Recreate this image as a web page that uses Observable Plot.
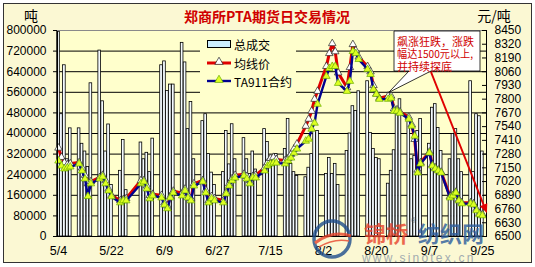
<!DOCTYPE html>
<html><head><meta charset="utf-8">
<script src="https://cdn.jsdelivr.net/npm/d3@7"></script>
<script src="https://cdn.jsdelivr.net/npm/@observablehq/plot@0.6"></script>
<style>
html,body{margin:0;padding:0;background:#fff;}
#chart{position:relative;width:535px;height:267px;}
</style></head><body><div id="chart"></div>
<script>
const dates = [
"2009-05-04","2009-05-05","2009-05-06","2009-05-07","2009-05-08","2009-05-11","2009-05-12","2009-05-13","2009-05-14","2009-05-15","2009-05-18","2009-05-19","2009-05-20","2009-05-21","2009-05-22","2009-05-25","2009-05-26","2009-05-27",
"2009-06-01","2009-06-02","2009-06-03","2009-06-04","2009-06-05","2009-06-08","2009-06-09","2009-06-10","2009-06-11","2009-06-12","2009-06-15","2009-06-16","2009-06-17","2009-06-18","2009-06-19","2009-06-22","2009-06-23","2009-06-24","2009-06-25","2009-06-26","2009-06-29","2009-06-30",
"2009-07-01","2009-07-02","2009-07-03","2009-07-06","2009-07-07","2009-07-08","2009-07-09","2009-07-10","2009-07-13","2009-07-14","2009-07-15","2009-07-16","2009-07-17","2009-07-20","2009-07-21","2009-07-22","2009-07-23","2009-07-24","2009-07-27","2009-07-28","2009-07-29","2009-07-30","2009-07-31",
"2009-08-03","2009-08-04","2009-08-05","2009-08-06","2009-08-07","2009-08-10","2009-08-11","2009-08-12","2009-08-13","2009-08-14","2009-08-17","2009-08-18","2009-08-19","2009-08-20","2009-08-21","2009-08-24","2009-08-25","2009-08-26","2009-08-27","2009-08-28","2009-08-31",
"2009-09-01","2009-09-02","2009-09-03","2009-09-04","2009-09-07","2009-09-08","2009-09-09","2009-09-10","2009-09-11","2009-09-14","2009-09-15","2009-09-16","2009-09-17","2009-09-18","2009-09-21","2009-09-22","2009-09-23","2009-09-24","2009-09-25"];
const volume = [
795000,475000,665000,300000,420000,420000,360000,330000,270000,595000,722000,525000,330000,435000,200000,255000,375000,180000,
365000,300000,325000,250000,380000,665000,680000,565000,590000,590000,752000,676000,417000,522000,300000,448000,475000,320000,248000,200000,250000,410000,
280000,436000,300000,382000,300000,243000,330000,260000,417000,367000,300000,280000,320000,340000,456000,282000,250000,235000,230000,267000,320000,410000,410000,
243000,305000,243000,282000,200000,332000,400000,506000,487000,564000,603000,402000,340000,305000,300000,205000,255000,335000,487000,533000,460000,
300000,313000,410000,456000,360000,500000,514000,421000,332000,300000,398000,417000,300000,250000,603000,250000,475000,467000,330000];
const avgPrice = [
7338,7250,7200,7180,7190,7200,7150,7080,7000,7020,7060,7080,7030,6950,6890,6840,6850,6860,
7030,7030,6980,6890,6900,6890,6820,6790,6880,6930,6910,6950,6890,6860,7000,7030,6940,6840,6880,6860,6840,6920,
7000,7050,7080,7090,7070,7030,7070,7080,7150,7200,7240,7250,7230,7220,7240,7280,7330,7376,7545,7612,7687,7800,7875,
8111,8233,8327,8250,8050,7910,8100,8318,8260,8200,8110,8060,7930,7850,7810,7830,7830,7710,7700,7680,7630,
7560,7420,7130,7200,7300,7180,7150,7130,7110,6880,6890,6920,6850,6820,6820,6810,6760,6720,6710];
const ta911 = [
7216,7169,7141,7150,7160,7188,7122,7046,6880,7000,7046,7065,7000,6933,6877,6820,6839,6839,
7000,7018,6952,6858,6886,6867,6800,6764,6867,6914,6886,6933,6867,6839,6980,7018,6914,6820,6858,6839,6820,6905,
6980,7028,7056,7075,7046,7000,7056,7056,7122,7169,7188,7197,7197,7188,7216,7244,7291,7329,7404,7423,7517,7574,7753,
8017,8092,8111,8111,7951,7875,7970,8252,8233,8177,8083,8035,7894,7847,7800,7800,7810,7687,7687,7668,7612,
7546,7451,7103,7188,7291,7169,7141,7122,7103,6867,6886,6914,6839,6811,6811,6801,6745,6707,6698];
const volumeTicks = [0,80000,160000,240000,320000,400000,480000,560000,640000,720000,800000];
const priceTicks = [6500,6630,6760,6890,7020,7150,7280,7410,7540,7670,7800,7930,8060,8190,8320,8450];
const xTickDates = ["2009-05-04","2009-05-22","2009-06-09","2009-06-27","2009-07-15","2009-08-02","2009-08-20","2009-09-07","2009-09-25"];
const titleText = "郑商所PTA期货日交易情况";
const leftUnit = "吨";
const rightUnit = "元/吨";
const seriesNames = ["总成交","均线价","TA911合约"];
const noteLines = ["飙涨狂跌，涨跌","幅达1500元以上,","并持续探底"];
const noteDate = "2009-08-25";
const watermark = ["锦桥","纺织网","www.sinotex.cn"];

const pMin = 6500, pMax = 8450, vMax = 800000;
const toV = p => (p - pMin) / (pMax - pMin) * vMax;
const DAY = 864e5;
const parse = d3.utcParse("%Y-%m-%d");
const rows = dates.map((d, i) => ({date: parse(d), volume: volume[i], avg: avgPrice[i], ta: ta911[i]}));
const t0 = rows[0].date, t1 = rows[rows.length - 1].date;

const W = 535, H = 267, mL = 57, mR = 49, mT = 30, mB = 31;
const font = "'Liberation Sans', Arial, sans-serif";
const cjk = "'Noto Sans CJK SC', sans-serif";

const plot = Plot.plot({
  width: W, height: H, marginLeft: mL, marginRight: mR, marginTop: mT, marginBottom: mB,
  style: {background: "transparent", fontFamily: font, fontSize: "12px", color: "#000", overflow: "visible"},
  x: {type: "utc", domain: [new Date(+t0 - 0.34 * DAY), new Date(+t1 + 1.4 * DAY)], label: null},
  y: {domain: [0, vMax], label: null},
  marks: [
    Plot.frame({fill: "#FFFFCC", stroke: null}),
    Plot.ruleY(volumeTicks.slice(1, -1), {stroke: "#000", strokeWidth: 1}),
    Plot.ruleY([vMax], {stroke: "#8a8a8a", strokeWidth: 1}),
    Plot.rectY(rows, {x1: d => new Date(+d.date - 0.45 * DAY), x2: d => new Date(+d.date + 0.45 * DAY), y1: 0, y2: "volume", fill: "#F4FBFF", stroke: "#000", strokeWidth: 0.8}),
    Plot.line(rows, {x: "date", y: d => toV(d.avg), stroke: "#E00000", strokeWidth: 3}),
    Plot.dot(rows, {x: "date", y: d => toV(d.avg), symbol: "triangle", r: 2.8, fill: "#fff", stroke: "#222", strokeWidth: 0.7}),
    Plot.line(rows, {x: "date", y: d => toV(d.ta), stroke: "#000090", strokeWidth: 2.4}),
    Plot.dot(rows, {x: "date", y: d => toV(d.ta), symbol: "triangle", r: 2.8, fill: "#DDFF22", stroke: "#6AAE00", strokeWidth: 0.7}),
    Plot.frame({stroke: "#000", strokeWidth: 1}),
    Plot.ruleY([vMax], {stroke: "#8a8a8a", strokeWidth: 1}),
    Plot.axisY(volumeTicks, {anchor: "left", tickSize: 4, tickPadding: 7, tickFormat: d => String(d), label: null, fontSize: 12}),
    Plot.axisY(priceTicks.map(toV), {anchor: "right", tickSize: 0, tickPadding: 8, tickFormat: d => String(Math.round(pMin + d / vMax * (pMax - pMin))), label: null, fontSize: 12}),
    Plot.tickY(priceTicks.map(toV), {y: d => d, insetLeft: W - mL - mR - 4, stroke: "#000"}),
    Plot.axisX(xTickDates.map(parse), {tickSize: 0, tickPadding: 10, tickFormat: d3.utcFormat("%-m/%-d"), label: null, fontSize: 12.5})
  ]
});

document.getElementById("chart").appendChild(plot);
const svg = d3.select(plot);
const xs = plot.scale("x"), ys = plot.scale("y");
const addText = (g, x, y, t, o) => {
  const e = g.append("text").attr("x", x).attr("y", y).attr("dominant-baseline", "central")
    .attr("text-anchor", o.anchor || "start").attr("font-family", o.family || cjk)
    .attr("font-size", o.size || 12).attr("fill", o.fill || "#000").text(t);
  if (o.weight) e.attr("font-weight", o.weight);
  if (o.ls) e.attr("letter-spacing", o.ls);
  if (o.len) e.attr("textLength", o.len).attr("lengthAdjust", "spacingAndGlyphs");
  return e;
};

// background + border
svg.insert("rect", ":first-child").attr("x", 3.5).attr("y", 3.5).attr("width", 528).attr("height", 259)
  .attr("fill", "#FBF8D3").attr("stroke", "#333").attr("stroke-width", 1);

// title and units
addText(svg, 267, 16, titleText, {anchor: "middle", size: 14, weight: "bold", fill: "#D00000"});
addText(svg, 31, 15, leftUnit, {anchor: "middle", size: 14});
addText(svg, 494, 15, rightUnit, {anchor: "middle", size: 14});

// legend
const lg = svg.append("g");
lg.append("rect").attr("x", 200).attr("y", 33).attr("width", 96).attr("height", 61).attr("fill", "#FFFFCC");
lg.append("rect").attr("x", 207.5).attr("y", 40.5).attr("width", 23).attr("height", 7).attr("fill", "#CCEEFF").attr("stroke", "#000");
lg.append("line").attr("x1", 207).attr("x2", 231).attr("y1", 63).attr("y2", 63).attr("stroke", "#E00000").attr("stroke-width", 3);
lg.append("path").attr("d", d3.symbol(d3.symbolTriangle, 30)()).attr("transform", "translate(219,62)").attr("fill", "#fff").attr("stroke", "#222").attr("stroke-width", 0.7);
lg.append("line").attr("x1", 207).attr("x2", 231).attr("y1", 81).attr("y2", 81).attr("stroke", "#000090").attr("stroke-width", 2.4);
lg.append("path").attr("d", d3.symbol(d3.symbolTriangle, 30)()).attr("transform", "translate(219,80)").attr("fill", "#DDFF22").attr("stroke", "#6AAE00").attr("stroke-width", 0.7);
[44, 63, 81].forEach((y, i) => addText(lg, 234, y, seriesNames[i], {size: 12}));

// callout
const ni = dates.indexOf(noteDate);
const tipX = xs.apply(rows[ni].date) - 2, tipY = ys.apply(toV(rows[ni].avg)) - 3;
svg.append("path").attr("d", `M394,31H480V71H431L${tipX},${tipY}L409,71H394Z`)
  .attr("fill", "#fff").attr("stroke", "#000").attr("stroke-width", 0.8);
addText(svg, 397, 40.5, noteLines[0], {size: 11, fill: "#D00000", len: 77});
addText(svg, 397, 53, noteLines[1], {size: 11, fill: "#D00000", len: 76});
addText(svg, 397, 65.5, noteLines[2], {size: 11, fill: "#D00000"});

// arrow to last point
const last = rows[rows.length - 1];
const ax2 = xs.apply(last.date) + 5, ay2 = ys.apply(toV(last.ta)) - 2;
const ax1 = 431, ay1 = 72;
const ang = Math.atan2(ay2 - ay1, ax2 - ax1);
svg.append("line").attr("x1", ax1).attr("y1", ay1).attr("x2", ax2 - 6 * Math.cos(ang)).attr("y2", ay2 - 6 * Math.sin(ang))
  .attr("stroke", "#E00000").attr("stroke-width", 2);
const ah = 9, aw = 4;
const bx = ax2 - ah * Math.cos(ang), by = ay2 - ah * Math.sin(ang);
svg.append("path").attr("d", `M${ax2},${ay2}L${bx + aw * Math.sin(ang)},${by - aw * Math.cos(ang)}L${bx - aw * Math.sin(ang)},${by + aw * Math.cos(ang)}Z`)
  .attr("fill", "#E00000");

// watermark
const wm = svg.append("g").attr("opacity", 0.8);
wm.append("circle").attr("cx", 332).attr("cy", 239).attr("r", 18).attr("fill", "none").attr("stroke", "#1F4E8C").attr("stroke-width", 3.5);
wm.append("path").attr("d", "M315,243 Q332,230 351,236").attr("fill", "none").attr("stroke", "#E8452C").attr("stroke-width", 3);
wm.append("path").attr("d", "M319,247 Q334,238 349,241").attr("fill", "none").attr("stroke", "#E8452C").attr("stroke-width", 1.5);
addText(wm, 364, 232, watermark[0], {size: 22, weight: "bold", fill: "#E8452C"});
addText(wm, 411, 220, "®", {size: 7, family: font, fill: "#555"});
addText(wm, 418, 232, watermark[1], {size: 22, weight: "bold", fill: "#2C5C9C"});
addText(wm, 362, 258, watermark[2], {size: 12, family: font, fill: "#8C98A8", ls: 2.2});
</script></body></html>
